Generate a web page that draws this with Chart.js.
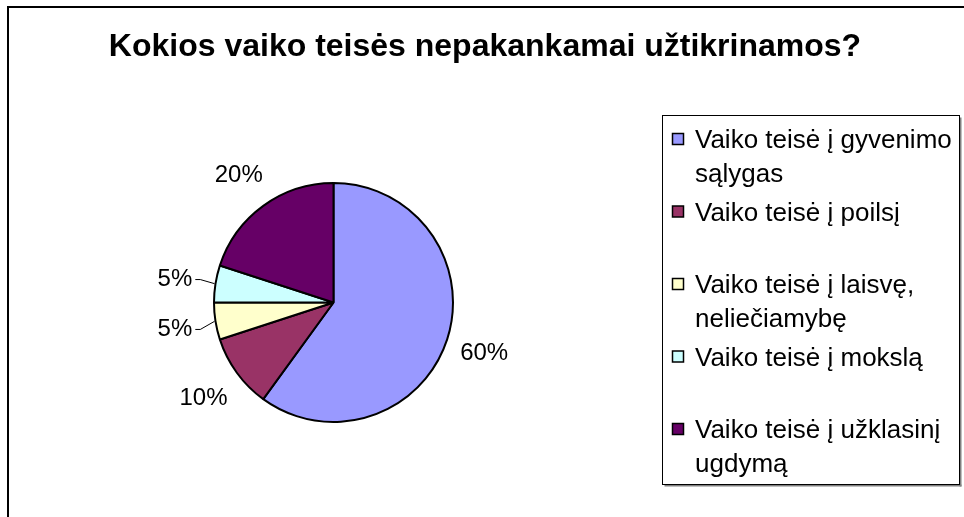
<!DOCTYPE html>
<html>
<head>
<meta charset="utf-8">
<script src="https://cdn.jsdelivr.net/npm/chart.js@4.4.1/dist/chart.umd.min.js"></script>
<style>
html,body{margin:0;padding:0;background:#fff;}
#wrap{position:relative;width:964px;height:517px;}
</style>
</head>
<body>
<div id="wrap"><canvas id="c" width="964" height="517"></canvas></div>
<script>
const chartTitle = "Kokios vaiko teisės nepakankamai užtikrinamos?";
const categories = [
  ["Vaiko teisė į gyvenimo", "sąlygas"],
  ["Vaiko teisė į poilsį"],
  ["Vaiko teisė į laisvę,", "neliečiamybę"],
  ["Vaiko teisė į mokslą"],
  ["Vaiko teisė į užklasinį", "ugdymą"]
];
const values = [60, 10, 5, 5, 20];
const valueLabels = ["60%", "10%", "5%", "5%", "20%"];
const colors = ["#9999FF", "#993366", "#FFFFCC", "#CCFFFF", "#660066"];

const FONT = "'Liberation Sans', Arial, sans-serif";

const decorPlugin = {
  id: 'decor',
  beforeDraw(chart) {
    const ctx = chart.ctx;
    ctx.save();
    ctx.fillStyle = '#fff';
    ctx.fillRect(0, 0, chart.width, chart.height);
    // outer border
    ctx.strokeStyle = '#000';
    ctx.lineWidth = 2;
    ctx.beginPath();
    ctx.moveTo(8, chart.height + 5);
    ctx.lineTo(8, 7);
    ctx.lineTo(chart.width + 5, 7);
    ctx.stroke();
    // title
    ctx.fillStyle = '#000';
    ctx.font = "bold 32px " + FONT;
    ctx.textAlign = 'center';
    ctx.textBaseline = 'alphabetic';
    ctx.fillText(chartTitle, 485, 56);
    ctx.restore();
  },
  afterDraw(chart) {
    const ctx = chart.ctx;
    const meta = chart.getDatasetMeta(0);
    ctx.save();
    // data labels
    ctx.font = "24px " + FONT;
    ctx.fillStyle = '#000';
    ctx.textAlign = 'center';
    ctx.textBaseline = 'middle';
    meta.data.forEach((arc, i) => {
      const p = arc.getProps(['x', 'y', 'startAngle', 'endAngle', 'outerRadius'], true);
      const mid = (p.startAngle + p.endAngle) / 2;
      const d = p.outerRadius + 40;
      const lx = p.x + Math.cos(mid) * d - 1;
      const ly = p.y + Math.sin(mid) * d + 2;
      ctx.fillText(valueLabels[i], lx, ly);
      if (values[i] <= 5) {
        const w = ctx.measureText(valueLabels[i]).width;
        const ex = p.x + Math.cos(mid) * (p.outerRadius + 1);
        const ey = p.y + Math.sin(mid) * (p.outerRadius + 1);
        ctx.strokeStyle = '#000';
        ctx.lineWidth = 1;
        ctx.beginPath();
        ctx.moveTo(lx + w / 2 + 3, ly);
        ctx.lineTo(lx + w / 2 + 8, ly);
        ctx.lineTo(ex, ey);
        ctx.stroke();
      }
    });
    // legend
    const bx = 662.5, by = 115.5, bw = 297, bh = 369;
    ctx.fillStyle = '#808080';
    ctx.fillRect(bx + 2, by + bh, bw, 2);
    ctx.fillRect(bx + bw, by + 2, 2, bh);
    ctx.fillStyle = '#fff';
    ctx.fillRect(bx, by, bw, bh);
    ctx.strokeStyle = '#000';
    ctx.lineWidth = 1;
    ctx.strokeRect(bx, by, bw, bh);
    ctx.font = "26px " + FONT;
    ctx.textAlign = 'left';
    ctx.textBaseline = 'alphabetic';
    const step = 72.5, first = 148, lineH = 34;
    categories.forEach((lines, i) => {
      const base = first + i * step;
      ctx.fillStyle = colors[i];
      ctx.fillRect(672.5, base - 14.5, 11, 11);
      ctx.strokeStyle = '#000';
      ctx.lineWidth = 1.5;
      ctx.strokeRect(672.5, base - 14.5, 11, 11);
      ctx.fillStyle = '#000';
      lines.forEach((t, j) => ctx.fillText(t, 695, base + j * lineH));
    });
    ctx.restore();
  }
};

new Chart(document.getElementById('c'), {
  type: 'pie',
  data: {
    labels: categories.map(l => l.join(' ')),
    datasets: [{
      data: values,
      backgroundColor: colors,
      borderColor: '#000',
      borderWidth: 2,
      borderAlign: 'center'
    }]
  },
  options: {
    responsive: false,
    animation: false,
    events: [],
    layout: { padding: { left: 213, right: 510, top: 182, bottom: 94 } },
    plugins: {
      legend: { display: false },
      title: { display: false },
      tooltip: { enabled: false }
    }
  },
  plugins: [decorPlugin]
});
</script>
</body>
</html>
